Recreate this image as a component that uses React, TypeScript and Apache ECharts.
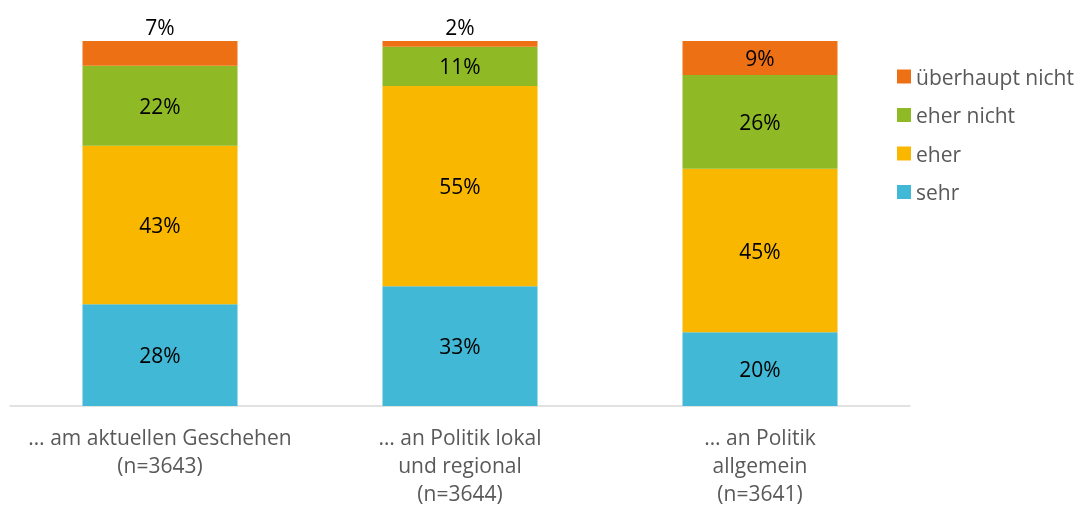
import React, { useEffect, useRef } from "react";
import * as echarts from "echarts";

const categories = [
  "… am aktuellen Geschehen\n(n=3643)",
  "… an Politik lokal\nund regional\n(n=3644)",
  "… an Politik\nallgemein\n(n=3641)",
];
const sehr = [27.9, 32.8, 20.2];
const eher = [43.4, 54.9, 44.8];
const eherNicht = [21.9, 10.7, 25.7];
const ueberhauptNicht = [6.8, 1.6, 9.3];
const legendOrder = ["überhaupt nicht", "eher nicht", "eher", "sehr"];

const FONT = "'Open Sans', sans-serif";

export default function App() {
  const ref = useRef<HTMLDivElement>(null);
  useEffect(() => {
    if (!ref.current) return;
    const chart = echarts.init(ref.current, undefined, { renderer: "svg" });
    const label = {
      show: true,
      position: "inside",
      color: "#000",
      fontSize: 21,
      fontFamily: FONT,
      formatter: (p: any) => Math.round(p.value) + "%",
    };
    const mk = (name: string, data: number[], color: string, topIdx: number[] = []) => ({
      name,
      type: "bar",
      stack: "total",
      barWidth: 155,
      itemStyle: { color },
      label,
      data: data.map((v, i) =>
        topIdx.includes(i)
          ? { value: v, label: { position: "top", distance: 4 } }
          : v
      ),
    });
    chart.setOption({
      animation: false,
      textStyle: { fontFamily: FONT },
      grid: { left: 10, right: 168, top: 41, bottom: 100 },
      legend: {
        data: legendOrder,
        orient: "vertical",
        left: 892,
        top: 60,
        icon: "rect",
        itemWidth: 14,
        itemHeight: 14,
        itemGap: 15.5,
        itemTextGap: 7,
        textStyle: { fontSize: 21, color: "#595959", fontFamily: FONT, lineHeight: 23 },
      },
      xAxis: {
        type: "category",
        data: categories,
        axisLine: { lineStyle: { color: "#d9d9d9", width: 1.5 } },
        axisTick: { show: false },
        axisLabel: {
          color: "#595959",
          fontSize: 21,
          lineHeight: 28,
          margin: 17,
          fontFamily: FONT,
          interval: 0,
        },
      },
      yAxis: { type: "value", min: 0, max: 100, show: false, splitLine: { show: false } },
      series: [
        mk("sehr", sehr, "#41B8D5"),
        mk("eher", eher, "#F9B700"),
        mk("eher nicht", eherNicht, "#8FBA25"),
        mk("überhaupt nicht", ueberhauptNicht, "#EE7015", [0, 1]),
      ],
    });
    return () => chart.dispose();
  }, []);
  return (
    <div
      ref={ref}
      style={{ position: "fixed", left: 0, top: 0, width: 1078, height: 507 }}
    />
  );
}
